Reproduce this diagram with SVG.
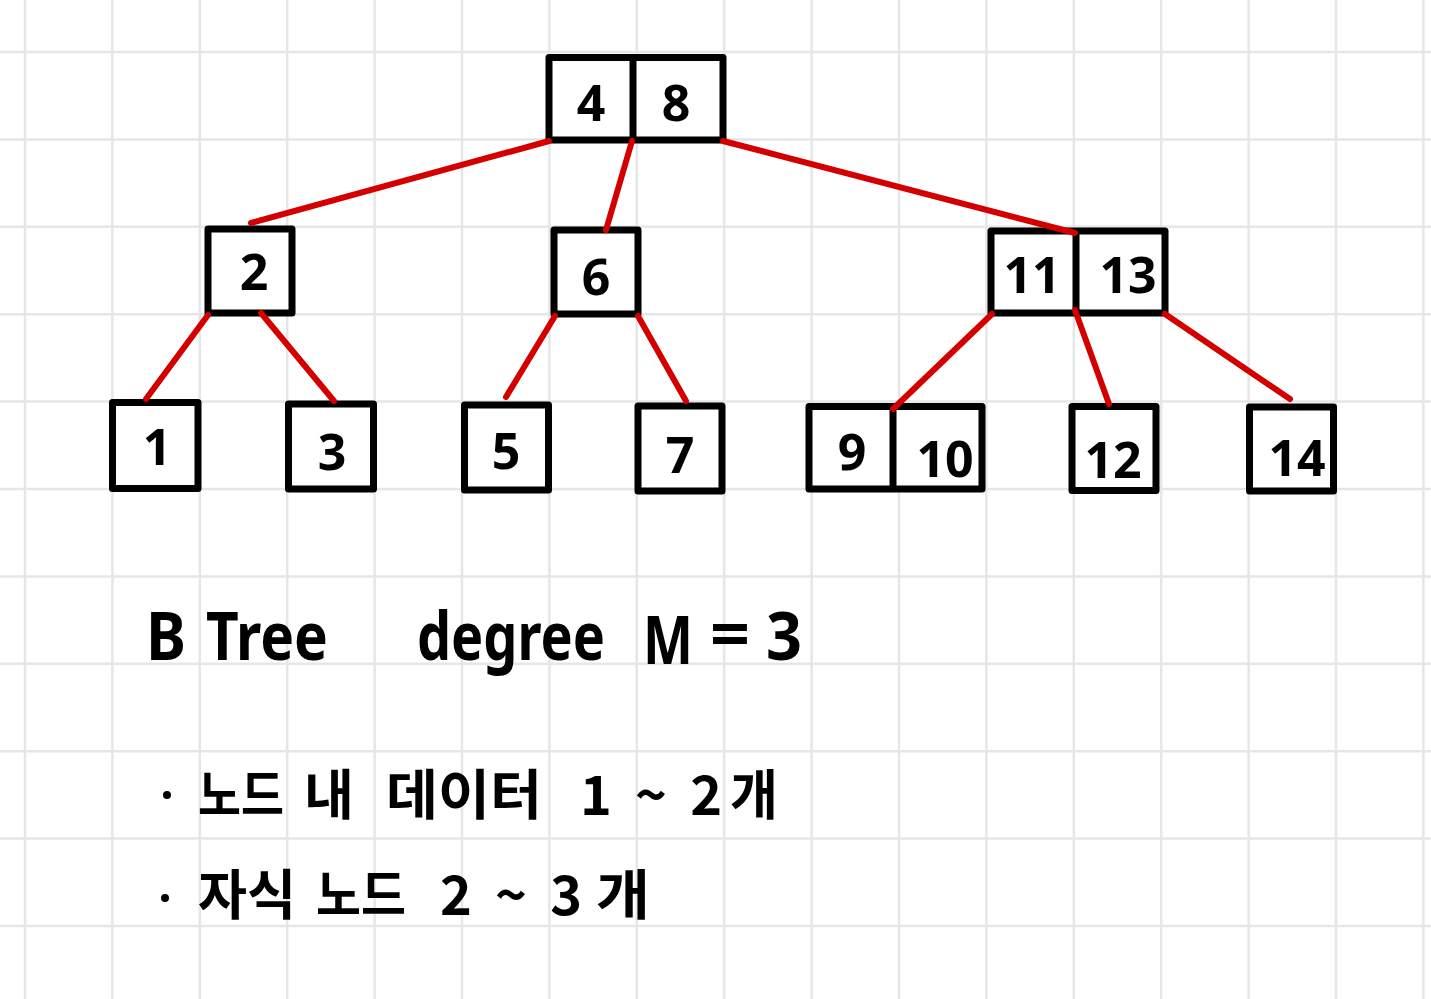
<svg xmlns="http://www.w3.org/2000/svg" width="1431" height="999" viewBox="0 0 1431 999">
<defs>
<style>
.grid line{stroke:#e6e6e6;stroke-width:2.5}
.box{fill:#ffffff;stroke:#000000;stroke-width:7;stroke-linejoin:round}
.div{stroke:#000000;stroke-width:7}
.edge{stroke:#d40000;stroke-width:6;stroke-linecap:round;fill:none}
.num{font-family:"Noto Sans","Liberation Sans",sans-serif;font-weight:bold;font-size:50px;text-anchor:middle;fill:#000}
.title{font-family:"Noto Sans","Liberation Sans",sans-serif;font-weight:bold;font-size:66px;fill:#000}
.kr{font-family:"Noto Sans CJK KR","Noto Sans",sans-serif;font-weight:bold;font-size:54px;fill:#000}
</style>
</defs>
<rect x="0" y="0" width="1431" height="999" fill="#ffffff"/>
<g class="grid">
<line x1="25" y1="0" x2="25" y2="999"/>
<line x1="112.4" y1="0" x2="112.4" y2="999"/>
<line x1="199.8" y1="0" x2="199.8" y2="999"/>
<line x1="287.2" y1="0" x2="287.2" y2="999"/>
<line x1="374.6" y1="0" x2="374.6" y2="999"/>
<line x1="462" y1="0" x2="462" y2="999"/>
<line x1="549.4" y1="0" x2="549.4" y2="999"/>
<line x1="636.8" y1="0" x2="636.8" y2="999"/>
<line x1="724.2" y1="0" x2="724.2" y2="999"/>
<line x1="811.6" y1="0" x2="811.6" y2="999"/>
<line x1="899" y1="0" x2="899" y2="999"/>
<line x1="986.4" y1="0" x2="986.4" y2="999"/>
<line x1="1073.8" y1="0" x2="1073.8" y2="999"/>
<line x1="1161.2" y1="0" x2="1161.2" y2="999"/>
<line x1="1248.6" y1="0" x2="1248.6" y2="999"/>
<line x1="1336" y1="0" x2="1336" y2="999"/>
<line x1="1423.4" y1="0" x2="1423.4" y2="999"/>
<line x1="0" y1="52" x2="1431" y2="52"/>
<line x1="0" y1="139.4" x2="1431" y2="139.4"/>
<line x1="0" y1="226.8" x2="1431" y2="226.8"/>
<line x1="0" y1="314.2" x2="1431" y2="314.2"/>
<line x1="0" y1="401.6" x2="1431" y2="401.6"/>
<line x1="0" y1="489" x2="1431" y2="489"/>
<line x1="0" y1="576.4" x2="1431" y2="576.4"/>
<line x1="0" y1="663.8" x2="1431" y2="663.8"/>
<line x1="0" y1="751.2" x2="1431" y2="751.2"/>
<line x1="0" y1="838.6" x2="1431" y2="838.6"/>
<line x1="0" y1="926" x2="1431" y2="926"/>
</g>

<g id="node-4-8">
<rect class="box" x="549" y="57.5" width="174" height="82.5"/>
<line class="div" x1="633" y1="57.5" x2="633" y2="140"/>
<text class="num" x="591" y="121">4</text>
<text class="num" x="676" y="121">8</text>
</g>
<g id="node-2">
<rect class="box" x="208" y="229" width="84" height="84"/>
<text class="num" x="254" y="290">2</text>
</g>
<g id="node-6">
<rect class="box" x="554" y="230" width="84" height="84"/>
<text class="num" x="596" y="295">6</text>
</g>
<g id="node-11-13">
<rect class="box" x="991" y="231" width="174" height="82"/>
<line class="div" x1="1076" y1="231" x2="1076" y2="313"/>
<text class="num" x="1032" y="293">11</text>
<text class="num" x="1128" y="293">13</text>
</g>
<g id="node-1">
<rect class="box" x="112.5" y="402.5" width="85.5" height="86"/>
<text class="num" x="157" y="465">1</text>
</g>
<g id="node-3">
<rect class="box" x="288.5" y="404" width="85" height="85"/>
<text class="num" x="332" y="470">3</text>
</g>
<g id="node-5">
<rect class="box" x="464.5" y="405" width="84" height="85"/>
<text class="num" x="506" y="469">5</text>
</g>
<g id="node-7">
<rect class="box" x="638" y="406" width="84" height="85"/>
<text class="num" x="680" y="473">7</text>
</g>
<g id="node-9-10">
<rect class="box" x="809" y="406.5" width="173" height="82.5"/>
<line class="div" x1="893" y1="406.5" x2="893" y2="489"/>
<text class="num" x="852" y="470">9</text>
<text class="num" x="945" y="477">10</text>
</g>
<g id="node-12">
<rect class="box" x="1072" y="406.5" width="84" height="84"/>
<text class="num" x="1113" y="478">12</text>
</g>
<g id="node-14">
<rect class="box" x="1249.5" y="407" width="84" height="84"/>
<text class="num" x="1297" y="476">14</text>
</g>

<g id="connectors">
<line class="edge" x1="549" y1="141" x2="251" y2="223"/>
<line class="edge" x1="632" y1="141" x2="606" y2="230"/>
<line class="edge" x1="723" y1="141" x2="1075" y2="233"/>
<line class="edge" x1="208" y1="315" x2="146" y2="399"/>
<line class="edge" x1="261" y1="313" x2="334" y2="401"/>
<line class="edge" x1="555" y1="316" x2="506" y2="397"/>
<line class="edge" x1="638" y1="316" x2="686" y2="401"/>
<line class="edge" x1="992" y1="314" x2="893" y2="409"/>
<line class="edge" x1="1075" y1="310" x2="1109" y2="404"/>
<line class="edge" x1="1165" y1="314" x2="1290" y2="399"/>
</g>

<g id="title">
<text class="title" x="146" y="660" textLength="40" lengthAdjust="spacingAndGlyphs">B</text>
<text class="title" x="206" y="660" textLength="122" lengthAdjust="spacingAndGlyphs">Tree</text>
<text class="title" x="417" y="660" textLength="188" lengthAdjust="spacingAndGlyphs">degree</text>
<text class="title" x="643" y="664" textLength="50" lengthAdjust="spacingAndGlyphs">M</text>
<text class="title" x="710" y="658" textLength="40" lengthAdjust="spacingAndGlyphs">=</text>
<text class="title" x="766" y="660" textLength="36" lengthAdjust="spacingAndGlyphs">3</text>
</g>

<g id="notes">
<circle cx="167" cy="795" r="4" fill="#000"/>
<text class="kr" x="198" y="815" textLength="86" lengthAdjust="spacingAndGlyphs">노드</text>
<text class="kr" x="304" y="815" textLength="50" lengthAdjust="spacingAndGlyphs">내</text>
<text class="kr" x="386" y="815" textLength="156" lengthAdjust="spacingAndGlyphs">데이터</text>
<text class="kr" x="580" y="815" textLength="142" lengthAdjust="spacing">1~2</text>
<text class="kr" x="730" y="815" textLength="48" lengthAdjust="spacingAndGlyphs">개</text>
<circle cx="165" cy="898" r="4" fill="#000"/>
<text class="kr" x="198" y="915" textLength="98" lengthAdjust="spacingAndGlyphs">자식</text>
<text class="kr" x="316" y="915" textLength="90" lengthAdjust="spacingAndGlyphs">노드</text>
<text class="kr" x="440" y="915" textLength="142" lengthAdjust="spacing">2~3</text>
<text class="kr" x="596" y="915" textLength="54" lengthAdjust="spacingAndGlyphs">개</text>
</g>
</svg>
